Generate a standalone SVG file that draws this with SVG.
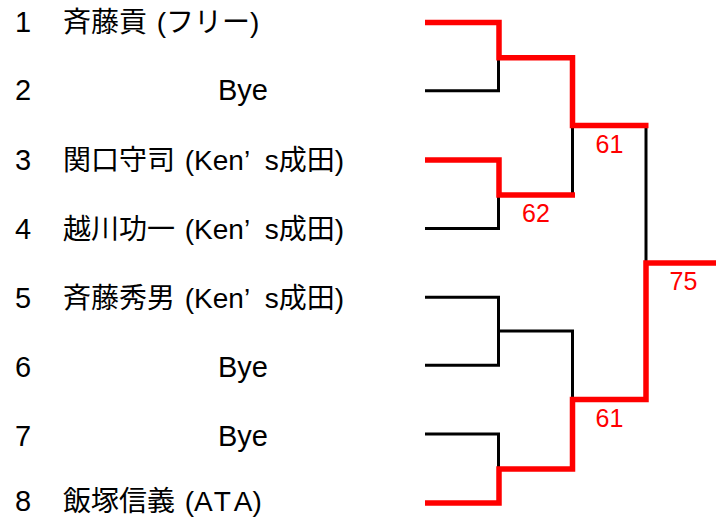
<svg xmlns="http://www.w3.org/2000/svg" width="716" height="517" viewBox="0 0 716 517">
<style>
.t{font-family:"Liberation Sans","Noto Sans CJK JP",sans-serif;font-size:28px;fill:#000}
.n{font-family:"Liberation Sans",sans-serif;font-size:29px;fill:#000}
.l{font-size:29px}
.s{font-family:"Liberation Sans",sans-serif;font-size:25px;fill:#FF0000}
.b{fill:none;stroke:#000;stroke-width:3;stroke-linejoin:miter}
.r{fill:none;stroke:#FF0000;stroke-width:5.5;stroke-linejoin:miter}
</style>
<rect width="716" height="517" fill="#fff"/>
<g id="players">
<g id="p1"><text class="n" x="15" y="31.7">1</text><text class="t" x="63" y="31.7">斉藤貢 <tspan dx="2">(フリー)</tspan></text></g>
<g id="p2"><text class="n" x="15" y="100.3">2</text><text class="t l" x="218" y="100.3">Bye</text></g>
<g id="p3"><text class="n" x="15" y="169.7">3</text><text class="t" x="63" y="169.7">関口守司 <tspan dx="2">(Ken’</tspan><tspan dx="15">s</tspan>成田)</text></g>
<g id="p4"><text class="n" x="15" y="238.8">4</text><text class="t" x="63" y="238.8">越川功一 <tspan dx="2">(Ken’</tspan><tspan dx="15">s</tspan>成田)</text></g>
<g id="p5"><text class="n" x="15" y="307.8">5</text><text class="t" x="63" y="307.8">斉藤秀男 <tspan dx="2">(Ken’</tspan><tspan dx="15">s</tspan>成田)</text></g>
<g id="p6"><text class="n" x="15" y="377">6</text><text class="t l" x="218" y="377">Bye</text></g>
<g id="p7"><text class="n" x="15" y="446">7</text><text class="t l" x="218" y="446">Bye</text></g>
<g id="p8"><text class="n" x="15" y="511">8</text><text class="t" x="63" y="511">飯塚信義 <tspan dx="2">(</tspan><tspan letter-spacing="3">AT</tspan>A)</text></g>
</g>
<g id="connectors">
<path class="b" d="M425 90.7H498.5V57.8"/>
<path class="b" d="M425 228.5H498.5V195"/>
<path class="b" d="M572.5 195V125.5"/>
<path class="b" d="M646 125.5V263"/>
<path class="b" d="M425 297.3H498.5V365.3H425"/>
<path class="b" d="M498.5 331H572.5V399.5"/>
<path class="b" d="M425 434H498.5V469"/>
<path class="r" d="M425 22.5H499V57.8H572.5V125.5H648.5"/>
<path class="r" d="M425 160H499V195H575"/>
<path class="r" d="M425 503H499V469H572.5V399.5H646V263H716"/>
</g>
<g id="scores">
<text class="s" x="595.5" y="153.3">61</text>
<text class="s" x="522" y="221.7">62</text>
<text class="s" x="669.5" y="290">75</text>
<text class="s" x="595.5" y="426.7">61</text>
</g>
</svg>
